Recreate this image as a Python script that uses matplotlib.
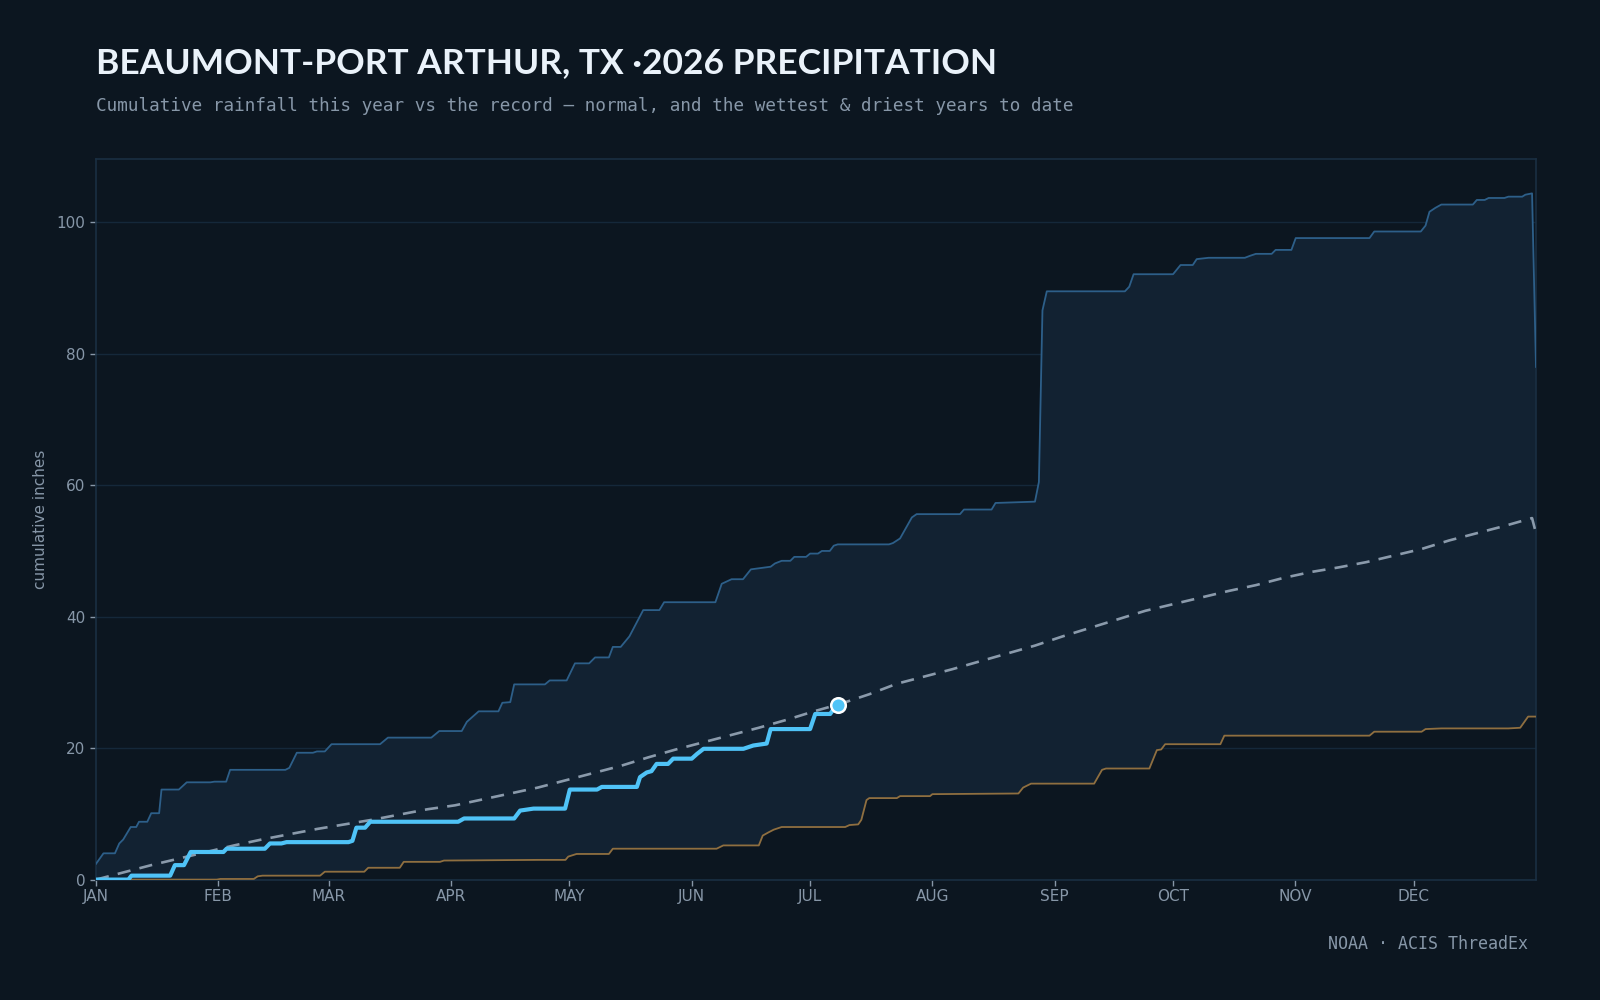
import numpy as np
import matplotlib
matplotlib.use("Agg")
import matplotlib.pyplot as plt

# ---- data (day of year, cumulative inches) ----
wettest_day = [0, 1.9, 4.8, 5.9, 6.9, 8.8, 10.2, 10.9, 13, 14, 16, 16.6, 21, 23, 29, 30, 33, 34, 48, 49,
               50.9, 55, 56, 58, 59.7, 72, 74, 85, 87, 92.7, 94, 97, 102, 103, 105, 106, 113.8, 115,
               119.3, 121.4, 125, 126.5, 130, 131, 133, 135.2, 138.7, 142.8, 144, 157, 158.6, 161.1,
               164, 166, 171, 172.1, 173.8, 176, 177, 180, 181, 183, 184, 186, 187, 188, 201, 202,
               203.8, 206.8, 208, 219, 220, 227, 228, 238, 239, 239.9, 241, 260.8, 261.9, 263, 273,
               274.9, 278, 279, 282, 291.2, 292.5, 294, 298, 299, 303, 304.1, 322.8, 324, 335.8, 337,
               338, 339.5, 341, 349, 350, 352, 353, 357, 358, 361.5, 362.3, 364, 365]
wettest_in = [2.4, 4.0, 4.0, 5.5, 6.1, 8.0, 8.0, 8.8, 8.8, 10.1, 10.1, 13.7, 13.7, 14.8, 14.8, 14.9, 14.9,
              16.7, 16.7, 17.0, 19.3, 19.3, 19.5, 19.5, 20.6, 20.6, 21.6, 21.6, 22.6, 22.6, 24.0, 25.6,
              25.6, 26.9, 27.0, 29.7, 29.7, 30.3, 30.3, 32.9, 32.9, 33.8, 33.8, 35.4, 35.4, 37.0, 41.0,
              41.0, 42.2, 42.2, 45.0, 45.7, 45.7, 47.2, 47.6, 48.1, 48.5, 48.5, 49.1, 49.1, 49.6, 49.6,
              50.0, 50.0, 50.8, 51.0, 51.0, 51.2, 51.9, 55.1, 55.6, 55.6, 56.3, 56.3, 57.3, 57.5, 60.5,
              86.6, 89.5, 89.5, 90.2, 92.1, 92.1, 93.5, 93.5, 94.4, 94.6, 94.6, 94.9, 95.2, 95.2, 95.8,
              95.8, 97.6, 97.6, 98.6, 98.6, 99.5, 101.6, 102.2, 102.7, 102.7, 103.4, 103.4, 103.7,
              103.7, 103.9, 103.9, 104.2, 104.4, 78.0]

driest_day = [0, 30.6, 31.5, 40, 41, 42.2, 56.8, 58, 68, 69, 77, 78, 87.2, 88.2, 112, 119, 119.7, 121.8,
              130, 131, 157.3, 159, 168, 169, 170.5, 171.8, 173.8, 189.9, 191, 193.2, 194, 195.3, 196,
              203, 203.8, 211.4, 212, 233.8, 235, 237, 253, 255, 256, 267, 268.9, 270, 271, 285, 286,
              322.8, 324, 336, 337, 341, 358, 361, 363, 365]
driest_in = [0, 0, 0.1, 0.1, 0.5, 0.6, 0.6, 1.2, 1.2, 1.8, 1.8, 2.7, 2.7, 2.9, 3.0, 3.0, 3.5, 3.9, 3.9,
             4.7, 4.7, 5.2, 5.2, 6.7, 7.2, 7.6, 8.0, 8.0, 8.3, 8.4, 9.1, 12.1, 12.4, 12.4, 12.7, 12.7,
             13.0, 13.1, 14.0, 14.6, 14.6, 16.7, 16.9, 16.9, 19.7, 19.8, 20.6, 20.6, 21.9, 21.9, 22.5,
             22.5, 22.9, 23.0, 23.0, 23.1, 24.8, 24.8]

this_year_day = [0, 8.2, 9, 18.8, 20, 22.3, 24, 32.3, 33.1, 42.8, 44.1, 47, 48.3, 64, 65, 66, 68.2, 69.5,
                 91.8, 93.3, 106, 107.5, 110.9, 118.9, 120.1, 127, 128.2, 137.1, 137.9, 139.6, 140.8,
                 142.1, 145, 146.3, 151, 152.3, 154, 164.1, 166.6, 170, 171, 181, 182.3, 186.1, 187, 188.2]
this_year_in = [0, 0, 0.6, 0.6, 2.2, 2.2, 4.2, 4.2, 4.7, 4.7, 5.5, 5.5, 5.7, 5.7, 5.9, 7.9, 7.9, 8.8,
                8.8, 9.3, 9.3, 10.5, 10.8, 10.8, 13.7, 13.7, 14.1, 14.1, 15.6, 16.3, 16.5, 17.6, 17.6,
                18.4, 18.4, 19.1, 19.9, 19.9, 20.4, 20.7, 22.9, 22.9, 25.2, 25.2, 26.0, 26.6]

normal_day = [0, 7, 14, 21, 28, 35, 42, 49, 56, 63, 70, 77, 84, 91, 98, 105, 112, 119, 126, 133, 140,
              147, 154, 161, 168, 175, 182, 189, 196, 203, 210, 217, 224, 231, 238, 245, 252, 259, 266,
              273, 280, 287, 294, 301, 308, 315, 322, 329, 336, 343, 350, 357, 364, 365]
normal_in = [0, 1.1, 2.2, 3.2, 4.2, 5.2, 6.1, 6.9, 7.7, 8.4, 9.1, 9.9, 10.7, 11.3, 12.2, 13.1, 14.0,
             15.1, 16.2, 17.3, 18.6, 19.8, 20.9, 22.0, 23.1, 24.3, 25.6, 26.8, 28.2, 29.8, 30.9, 32.0,
             33.2, 34.4, 35.6, 37.0, 38.3, 39.6, 40.9, 41.9, 42.9, 43.9, 44.8, 45.9, 46.8, 47.5, 48.3,
             49.3, 50.3, 51.6, 52.7, 53.8, 55.0, 52.7]

month_starts = [0, 31, 59, 90, 120, 151, 181, 212, 243, 273, 304, 334]
month_labels = ["JAN", "FEB", "MAR", "APR", "MAY", "JUN", "JUL", "AUG", "SEP", "OCT", "NOV", "DEC"]

# ---- style ----
BG = "#0c1620"
FILL = "#122232"
GRID = "#15283a"
TXT = "#8797a8"

fig = plt.figure(figsize=(16, 10), dpi=100, facecolor=BG)
ax = fig.add_axes([0.06, 0.1204, 0.90, 0.7204], facecolor=BG)

# band between driest and wettest
band_x = np.concatenate([wettest_day, driest_day[::-1]])
band_y = np.concatenate([wettest_in, driest_in[::-1]])
ax.fill(band_x, band_y, color=FILL, lw=0, zorder=1)

ax.plot(wettest_day, wettest_in, color="#2d5f89", lw=1.3, zorder=3)
ax.plot(driest_day, driest_in, color="#8f6f40", lw=1.3, zorder=3)
ax.plot(normal_day, normal_in, color="#8a9aab", lw=1.9, ls=(0, (5, 3.5)), zorder=4)
ax.plot(this_year_day, this_year_in, color="#4fc3f7", lw=3, zorder=5,
        solid_joinstyle="round", solid_capstyle="round")
ax.scatter([this_year_day[-1]], [this_year_in[-1]], s=110, color="#4fc3f7",
           edgecolor="white", linewidth=1.8, zorder=6)

ax.set_xlim(0, 365)
ax.set_ylim(0, 109.6)
ax.set_xticks(month_starts)
ax.set_xticklabels(month_labels)
ax.set_yticks([0, 20, 40, 60, 80, 100])
ax.grid(axis="y", color=GRID, lw=1)
ax.set_axisbelow(True)
ax.tick_params(colors=TXT, labelsize=11, length=4, width=1, labelcolor=TXT)
ax.tick_params(axis="x", pad=3)
for s in ax.spines.values():
    s.set_color("#1a2f42")
    s.set_linewidth(1.2)
ax.set_ylabel("cumulative inches", color=TXT, fontsize=11, labelpad=6)

fig.text(0.06, 0.937, "BEAUMONT-PORT ARTHUR, TX \u00b72026 PRECIPITATION", color="#eaf2fa",
         fontsize=25.5, fontweight="bold", family="Lato", va="center", ha="left")
fig.text(0.06, 0.894, "Cumulative rainfall this year vs the record \u2014 normal, and the wettest & driest years to date",
         color=TXT, fontsize=12.7, family="DejaVu Sans Mono", va="center", ha="left")
fig.text(0.955, 0.056, "NOAA \u00b7 ACIS ThreadEx", color=TXT, fontsize=12,
         family="DejaVu Sans Mono", va="center", ha="right")

fig.savefig("out.png", dpi=100, facecolor=BG)
